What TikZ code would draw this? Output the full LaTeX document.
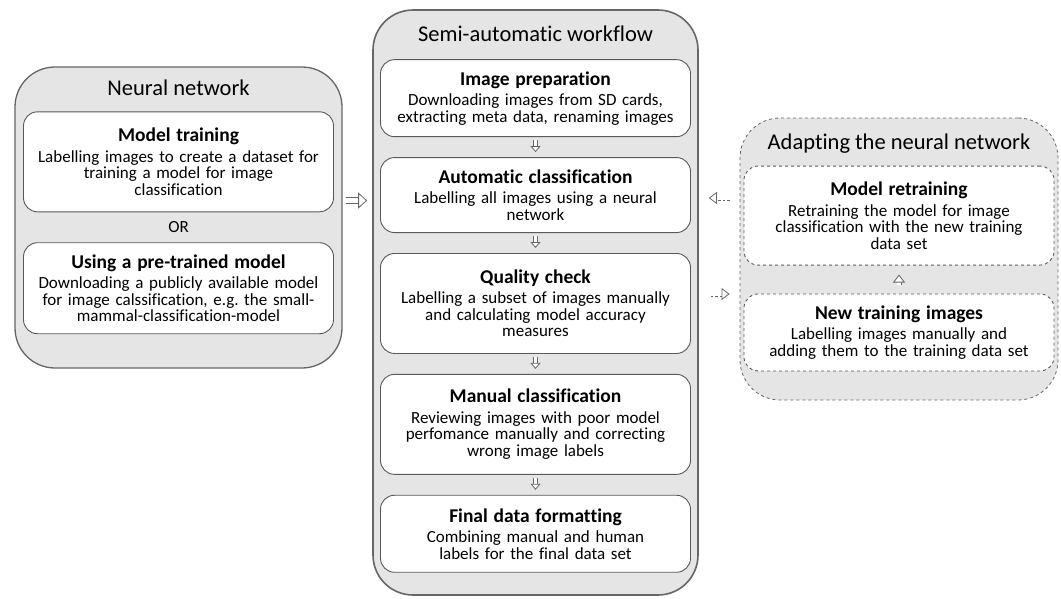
\documentclass[tikz,border=0pt]{standalone}
\usepackage{fontspec}
\setmainfont{Carlito}[Ligatures={NoCommon}]
\usetikzlibrary{positioning,arrows.meta}
\newcommand{\boxtitle}[1]{{\fontsize{19.5}{22}\selectfont\bfseries #1}}
\frenchspacing

\begin{document}
\begin{tikzpicture}[
        x=1pt, y=1pt,
        node distance=20pt,
        panel/.style={
            draw=black!60,
            line width=1.3pt,
            fill=black!10,
            rounded corners=40pt
        },
        box/.style={
            draw=black!65,
            line width=0.9pt,
            fill=white,
            rounded corners=14pt,
            align=center,
            text width=306pt,
            minimum width=310pt,
            inner xsep=2pt,
            inner ysep=3pt,
            font=\fontsize{17}{16.5}\selectfont
        },
        title/.style={font=\fontsize{22.5}{24}\selectfont},
        hollow/.style={
            draw=black!60,
            line width=0.8pt,
            double=white,
            double distance=3.4pt,
            -{Triangle[open, fill=white, length=6pt, width=10pt]}
        },
        bighollow/.style={
            hollow,
            double distance=5.6pt,
            -{Triangle[open, fill=white, length=9pt, width=16pt]}
        },
        dhollow/.style={hollow, dash pattern=on 2.5pt off 2pt,
            -{Triangle[open, fill=white, length=8pt, width=12pt]}}
    ]
    \useasboundingbox (0,0) rectangle (1061,-598);

    % Panels
    \node[panel, minimum width=327pt, minimum height=301pt] (nn) at (178.5,-217.5) {};
    \node[panel, line width=1.6pt, minimum width=325pt, minimum height=585pt] (flow) at (535.5,-302.5) {};
    \node[panel, dashed, line width=0.8pt, minimum width=318pt, minimum height=282pt] (adapt) at (899,-259) {};

    \node[title] (nntitle) at ([yshift=-21pt]nn.north) {Neural network};
    \node[title] (flowtitle) at ([yshift=-25pt]flow.north) {Semi-automatic workflow};
    \node[title] (adapttitle) at ([yshift=-26pt]adapt.north) {Adapting the neural network};

    % Neural network
    \node[box, minimum height=100pt, below=45pt of nn.north] (train) {%
    \boxtitle{Model training}\\[4pt]
    Labelling images to create a dataset for\\
    training a model for image\\
    classification
    };

    \node[box, minimum height=91pt, below=30pt of train] (pretrained) {%
    \boxtitle{Using a pre-trained model}\\[4pt]
    Downloading a publicly available model\\
    for image calssification, e.g. the small-\\
    mammal-classification-model
    };

    \path (train.south) -- node[font=\fontsize{17}{16.5}\selectfont] (or) {OR} (pretrained.north);

    % Workflow
    \node[box, minimum height=77pt, below=50pt of flow.north] (prep) {%
    \boxtitle{Image preparation}\\[4pt]
    Downloading images from SD cards,\\
    extracting meta data, renaming images
    };

    \node[box, minimum height=75pt, below=of prep] (auto) {%
    \boxtitle{Automatic classification}\\[4pt]
    Labelling all images using a neural\\
    network
    };

    \node[box, minimum height=100pt, below=of auto] (quality) {%
    \boxtitle{Quality check}\\[4pt]
    Labelling a subset of images manually\\
    and calculating model accuracy\\
    measures
    };

    \node[box, minimum height=100pt, below=of quality] (manual) {%
    \boxtitle{Manual classification}\\[4pt]
    Reviewing images with poor model\\
    perfomance manually and correcting\\
    wrong image labels
    };

    \node[box, minimum height=77pt, below=of manual] (final) {%
    \boxtitle{Final data formatting}\\[4pt]
    Combining manual and human\\
    labels for the final data set
    };

    % Adapting
    \node[box, dashed, minimum height=99pt, below=48pt of adapt.north] (retrain) {%
    \boxtitle{Model retraining}\\[4pt]
    Retraining the model for image\\
    classification with the new training\\
    data set
    };

    \node[box, dashed, minimum height=77pt, below=28pt of retrain] (newimgs) {%
    \boxtitle{New training images}\\[4pt]
    Labelling images manually and\\
    adding them to the training data set
    };

    % Arrows
    \coordinate (nnout) at ([yshift=17pt]nn.east);
    \draw[bighollow, shorten <=3pt, shorten >=5pt] (nnout) -- (nnout -| flow.west);

    \foreach \a/\b in {prep/auto, auto/quality, quality/manual, manual/final}
        \draw[hollow, shorten <=3pt, shorten >=5pt] (\a) -- (\b);

    \coordinate (back) at ([yshift=61pt]adapt.west);
    \draw[dhollow, shorten <=10pt, shorten >=10pt] (back) -- (back -| flow.east);
    \coordinate (fwd) at ([yshift=-35pt]adapt.west);
    \draw[dhollow, shorten <=12pt, shorten >=10pt] (fwd -| flow.east) -- (fwd);
    \draw[dhollow, shorten <=9pt, shorten >=9pt] (newimgs) -- (retrain);

\end{tikzpicture}
\end{document}
